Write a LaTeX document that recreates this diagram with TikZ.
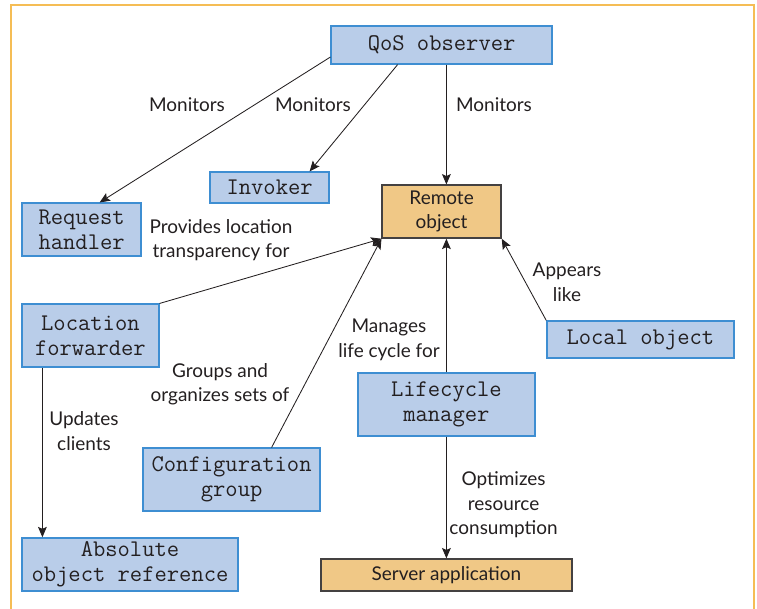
\documentclass[tikz,border=0pt]{standalone}
\usepackage{fontspec}
\setmainfont{Lato}
\usetikzlibrary{arrows.meta, positioning, calc}
\definecolor{mBoxBlue}{HTML}{B9CDE9}
\definecolor{mEdgeBlue}{HTML}{3E8ED2}
\definecolor{mTan}{HTML}{F0C886}
\definecolor{mFrame}{HTML}{F5BD55}
\definecolor{mInk}{HTML}{231F20}
\tikzset{
  comp/.style={draw=mEdgeBlue, fill=mBoxBlue, line width=0.9pt, inner sep=0pt,
               align=center, text=mInk, font=\ttfamily\fontsize{17}{18}\selectfont},
  core/.style={draw=mInk!85, fill=mTan, line width=0.9pt, inner sep=0pt,
               align=center, text=mInk, font=\fontsize{13.5}{17.5}\selectfont},
  lbl/.style={align=center, inner sep=0pt, text=mInk,
              font=\fontsize{13.5}{17.5}\selectfont},
  link/.style={draw=mInk, line width=0.6pt},
  arr/.style={link, -{Stealth[length=2.6mm, width=2.2mm, inset=0.5mm]}},
}

\begin{document}
\begin{tikzpicture}
    \useasboundingbox (0,0) rectangle (18.925,-15.225);
    \draw[mFrame, line width=1.3pt] (0.27,-15.4) |- (18.85,-0.13) -- (18.85,-15.4);
    % components
    \node[comp, minimum width=5.525cm, minimum height=0.95cm]  (qos)       at (11.04,-1.125) {QoS observer};
    \node[comp, minimum width=2.975cm, minimum height=0.775cm] (invoker)   at (6.74,-4.69)   {Invoker};
    \node[comp, minimum width=2.975cm, minimum height=1.325cm] (request)   at (2.04,-5.74)   {Request\\handler};
    \node[core, minimum width=2.975cm, minimum height=1.325cm] (remote)    at (11.04,-5.29)  {Remote\\object};
    \node[comp, minimum width=3.425cm, minimum height=1.575cm] (locfwd)    at (2.26,-8.39)   {Location\\forwarder};
    \node[comp, minimum width=4.675cm, minimum height=0.925cm] (local)     at (16.01,-8.49)  {Local object};
    \node[comp, minimum width=4.425cm, minimum height=1.575cm] (lifecycle) at (11.16,-10.11) {Lifecycle\\manager};
    \node[comp, minimum width=4.425cm, minimum height=1.575cm] (config)    at (5.79,-11.99)  {Configuration\\group};
    \node[comp, minimum width=5.4cm,   minimum height=1.325cm] (absolute)  at (3.25,-14.11)  {Absolute\\object reference};
    \node[core, minimum width=6.275cm, minimum height=0.8cm]   (server)    at (11.16,-14.375) {Server application};
    % relation texts
    \node[lbl] (mon1)      at (4.675,-2.625) {Monitors};
    \node[lbl] (mon2)      at (7.825,-2.625) {Monitors};
    \node[lbl] (mon3)      at (12.35,-2.625) {Monitors};
    \node[lbl] (provides)  at (5.525,-6.0)   {Provides location\\transparency for};
    \node[lbl] (updates)   at (2.1,-10.775)  {Updates\\clients};
    \node[lbl] (groups)    at (5.5,-9.61)    {Groups and\\organizes sets of};
    \node[lbl] (manages)   at (9.725,-8.49)  {Manages\\life cycle for};
    \node[lbl] (appears)   at (14.175,-7.06) {Appears\\like};
    \node[lbl] (optimizes) at (12.59,-12.625) {Optimizes\\resource\\consumption};
    % connectors
    \draw[arr] ([yshift=-0.3cm]qos.west) -- ([xshift=0.45cm]request.north);
    \draw[arr] ([xshift=-1.1cm]qos.south) -- ([xshift=1cm]invoker.north);
    \draw[arr] (qos.south -| lifecycle.north) -- (remote.north -| lifecycle.north);
    \draw[arr] (locfwd.north east) -- (remote.south west);
    \draw[arr] ([xshift=1cm]config.north) -- (remote.south west);
    \draw[arr] (lifecycle.north) -- (lifecycle.north |- remote.south);
    \draw[arr] (local.north west) -- (remote.south east);
    \draw[arr] ([xshift=-1.2cm]locfwd.south) -- ([xshift=-1.2cm]locfwd.south |- absolute.north);
    \draw[arr] (lifecycle.south) -- (server.north);
\end{tikzpicture}
\end{document}
